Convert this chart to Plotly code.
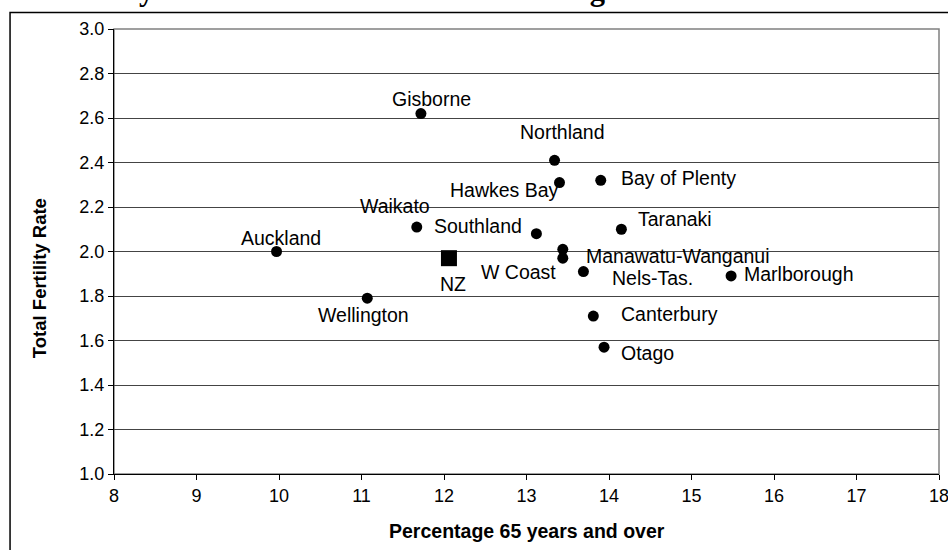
import plotly.graph_objects as go

# ---- data ----
regions = ["Gisborne", "Northland", "Hawkes Bay", "Bay of Plenty", "Waikato",
           "Southland", "Taranaki", "Manawatu-Wanganui", "W Coast", "Nels-Tas.",
           "Marlborough", "Canterbury", "Otago", "Auckland", "Wellington"]
pct_65 = [11.72, 13.34, 13.40, 13.90, 11.67,
          13.12, 14.15, 13.44, 13.44, 13.69,
          15.48, 13.81, 13.94, 9.97, 11.07]
tfr = [2.62, 2.41, 2.31, 2.32, 2.11,
       2.08, 2.10, 1.97, 2.01, 1.91,
       1.89, 1.71, 1.57, 2.00, 1.79]

nz_label = "NZ"
nz_pct_65 = [12.06]
nz_tfr = [1.97]

x_ticks = [8, 9, 10, 11, 12, 13, 14, 15, 16, 17, 18]
y_ticks = [1.0, 1.2, 1.4, 1.6, 1.8, 2.0, 2.2, 2.4, 2.6, 2.8, 3.0]

title_tail = "years and over for New Zealand regions 1996"
x_title = "Percentage 65 years and over"
y_title = "Total Fertility Rate"

# ---- label placement (anchor, x shift px, y shift px) ----
label_pos = {
    "Gisborne": ("center", 11, 15),
    "Northland": ("center", 8, 28),
    "Hawkes Bay": ("right", 1, -7),
    "Bay of Plenty": ("left", 18, 2),
    "Waikato": ("right", 15, 21),
    "Southland": ("right", -12, 8),
    "Taranaki": ("left", 15, 10),
    "Manawatu-Wanganui": ("left", 21, 2),
    "W Coast": ("right", -5, -23),
    "Nels-Tas.": ("left", 27, -6),
    "Marlborough": ("left", 11, 2),
    "Canterbury": ("left", 26, 2),
    "Otago": ("left", 15, -6),
    "Auckland": ("center", 4, 14),
    "Wellington": ("center", -4, -17),
}
nz_pos = ("center", 4, -26)

FONT = "Arial, Liberation Sans, sans-serif"

fig = go.Figure()
fig.add_trace(go.Scatter(
    x=pct_65, y=tfr, mode="markers",
    marker=dict(symbol="circle", size=11, color="black"),
    hoverinfo="skip", showlegend=False, cliponaxis=False))
fig.add_trace(go.Scatter(
    x=nz_pct_65, y=nz_tfr, mode="markers",
    marker=dict(symbol="square", size=16, color="black"),
    hoverinfo="skip", showlegend=False, cliponaxis=False))

annotations = []
for name, xv, yv in zip(regions, pct_65, tfr):
    anc, dx, dy = label_pos[name]
    annotations.append(dict(x=xv, y=yv, xref="x", yref="y", text=name,
                            showarrow=False, xanchor=anc, yanchor="middle",
                            xshift=dx, yshift=dy,
                            font=dict(family=FONT, size=19.5, color="black")))
anc, dx, dy = nz_pos
annotations.append(dict(x=nz_pct_65[0], y=nz_tfr[0], xref="x", yref="y", text=nz_label,
                        showarrow=False, xanchor=anc, yanchor="middle",
                        xshift=dx, yshift=dy,
                        font=dict(family=FONT, size=19.5, color="black")))

# axis titles
annotations.append(dict(x=0.5, y=-0.129, xref="paper", yref="paper", text=f"<b>{x_title}</b>",
                        showarrow=False, xanchor="center", yanchor="middle",
                        font=dict(family=FONT, size=19.5, color="black")))
annotations.append(dict(x=-0.091, y=0.44, xref="paper", yref="paper", text=f"<b>{y_title}</b>",
                        showarrow=False, xanchor="center", yanchor="middle", textangle=-90,
                        font=dict(family=FONT, size=18.5, color="black")))
# cut-off title line at top of the page
annotations.append(dict(x=0.386, y=1.087, xref="paper", yref="paper", text=f"<b>{title_tail}</b>",
                        showarrow=False, xanchor="center", yanchor="middle",
                        font=dict(family="Liberation Serif, Times New Roman, serif", size=30.5, color="black")))

shapes = [
    # outer chart frame
    dict(type="rect", xref="paper", yref="paper", x0=-0.126, x1=1.02, y0=-0.19, y1=1.037,
         line=dict(color="black", width=1.5), layer="below"),
    # plot-area border
    dict(type="rect", xref="paper", yref="paper", x0=0, x1=1, y0=0, y1=1,
         line=dict(color="#808080", width=1.5), layer="below"),
]

fig.update_layout(
    width=948, height=550,
    margin=dict(l=114, r=9, t=29, b=76, pad=0),
    paper_bgcolor="white", plot_bgcolor="white",
    showlegend=False,
    annotations=annotations, shapes=shapes,
    font=dict(family=FONT, color="black"),
)
fig.update_xaxes(range=[8, 18], tickvals=x_ticks, ticktext=[str(v) for v in x_ticks],
                 showgrid=False, zeroline=False, showline=True, linecolor="black", linewidth=1,
                 ticks="outside", ticklen=5, tickcolor="black", ticklabeloverflow="allow",
                 tickfont=dict(family=FONT, size=18, color="black"), automargin=False)
fig.update_yaxes(range=[1.0, 3.0], tickvals=y_ticks, ticktext=[f"{v:.1f}" for v in y_ticks],
                 showgrid=True, gridcolor="#444444", gridwidth=1, zeroline=False,
                 showline=True, linecolor="black", linewidth=1,
                 ticks="outside", ticklen=5, tickcolor="black",
                 tickfont=dict(family=FONT, size=18, color="black"), automargin=False)

fig.write_html("out.html", config={"displayModeBar": False},
               post_script="document.body.style.margin='0';document.body.style.overflow='hidden';")
